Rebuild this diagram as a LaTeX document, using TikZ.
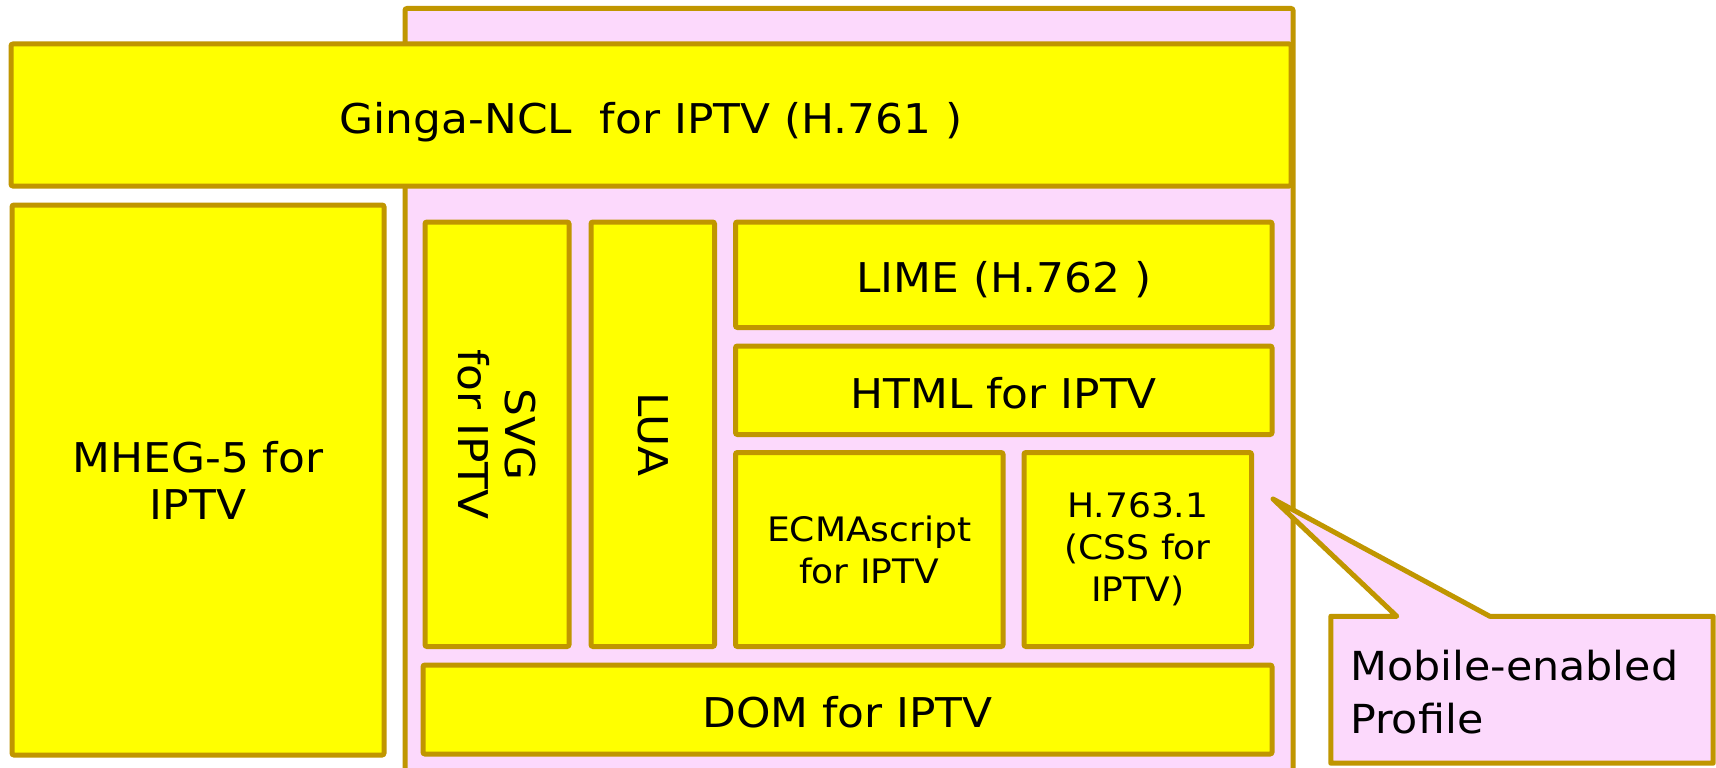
\documentclass[tikz,border=0pt]{standalone}
\usepackage{fontspec}
\setmainfont{DejaVu Sans}[FakeStretch=1.07]
\definecolor{boxline}{RGB}{192,150,0}
\definecolor{boxyellow}{RGB}{255,255,0}
\definecolor{boxpink}{RGB}{252,217,252}
\newcommand\bigtxt{\fontsize{41}{47}\selectfont}
\newcommand\smalltxt{\fontsize{33.7}{42}\selectfont}
\begin{document}
\begin{tikzpicture}[x=1pt,y=-1pt,
  ybox/.style={draw=boxline, fill=boxyellow, line width=5pt, rounded corners=2pt,
    inner sep=0pt, align=center, font=\bigtxt, text=black},
  oneline/.style={text height=36pt, text depth=0pt},
  pbox/.style={draw=boxline, fill=boxpink, line width=5pt, rounded corners=2pt, inner sep=0pt},
]
\useasboundingbox (0,0) rectangle (1716,768);
\fill[white] (0,0) rectangle (1716,768);

% pink frame (runs off the bottom)
\begin{scope}
\clip (0,0) rectangle (1716,768);
\node[pbox, minimum width=888pt, minimum height=791.5pt] (frame) at (849,404.25) {};
\end{scope}

\node[ybox, oneline, minimum width=1280pt, minimum height=142pt] (ginga) at (651,115) {Ginga-NCL\ \ for IPTV (H.761 )};
\node[ybox, minimum width=372pt, minimum height=550pt] (mheg) at (198,480) {MHEG-5 for\\IPTV};
\node[ybox, minimum width=144pt, minimum height=424.5pt] (svgbox) at (497,434.25) {};
\node[rotate=-90, align=center, font=\bigtxt, inner sep=0pt] (svgtext) at (svgbox.center) {SVG\\for IPTV};
\node[ybox, minimum width=123.5pt, minimum height=424.5pt] (luabox) at (652.75,434.25) {};
\node[rotate=-90, font=\bigtxt, inner sep=0pt] (luatext) at (luabox.center) {LUA};
\node[ybox, oneline, minimum width=536.5pt, minimum height=105.5pt] (lime) at (1003.75,274.75) {LIME (H.762 )};
\node[ybox, oneline, minimum width=536.5pt, minimum height=88.5pt] (html) at (1003.75,390.25) {HTML for IPTV};
\node[ybox, minimum width=267.5pt, minimum height=194pt, font=\smalltxt] (ecma) at (869.25,549.5) {ECMAscript\\for IPTV};
\node[ybox, minimum width=227.5pt, minimum height=194pt, font=\smalltxt] (css) at (1137.75,549.5) {H.763.1\\(CSS for\\IPTV)};
\node[ybox, oneline, minimum width=849pt, minimum height=89pt] (dom) at (847.5,709.5) {DOM for IPTV};

% callout
\coordinate (tip) at (1273,499);
\node[minimum width=382pt, minimum height=146.5pt, inner sep=0pt] (callout) at (1522,689.75) {};
\path[draw=boxline, fill=boxpink, line width=5pt, line join=round]
  (callout.north west) -- ([xshift=66pt]callout.north west) -- (tip)
  -- ([xshift=159pt]callout.north west) -- (callout.north east)
  -- (callout.south east) -- (callout.south west) -- cycle;
\node[anchor=base west, align=left, font=\fontsize{40}{53}\selectfont, inner sep=0pt] (calltext) at (1350,733) {Mobile-enabled\\Profile};
\end{tikzpicture}
\end{document}
